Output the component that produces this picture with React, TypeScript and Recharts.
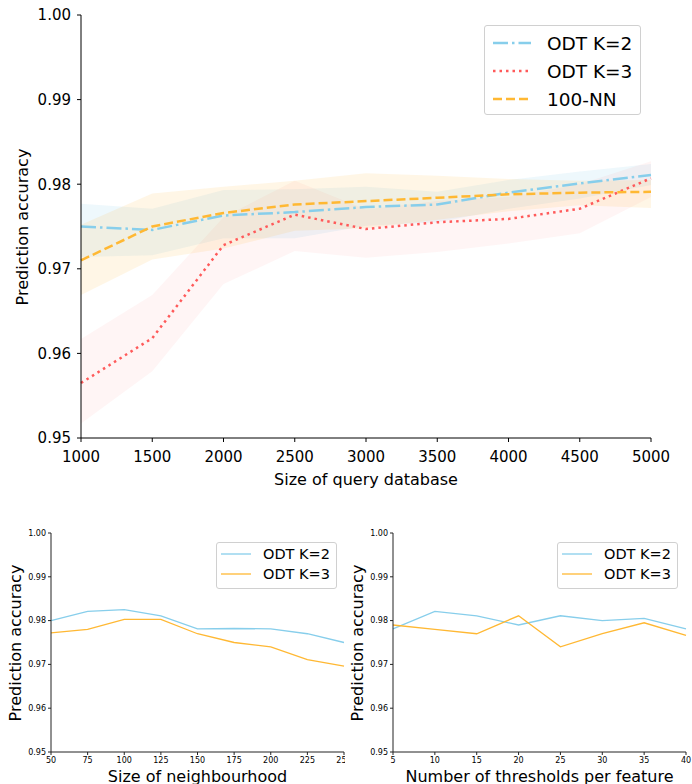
import React from 'react';
import { ComposedChart, LineChart, Line, Area, XAxis, YAxis, Legend, Label } from 'recharts';

// top panel: accuracy vs size of query database (mean + spread band)
const querySizes = [1000, 1500, 2000, 2500, 3000, 3500, 4000, 4500, 5000];
const odtK2Mean = [0.975, 0.9746, 0.9763, 0.9767, 0.9773, 0.9776, 0.979, 0.9801, 0.9811];
const odtK2Low = [0.9714, 0.9716, 0.9736, 0.9736, 0.9751, 0.9755, 0.9771, 0.9783, 0.9799];
const odtK2High = [0.9777, 0.9771, 0.9793, 0.9794, 0.9797, 0.9791, 0.9805, 0.9815, 0.9824];
const odtK3Mean = [0.9565, 0.9618, 0.9728, 0.9764, 0.9747, 0.9755, 0.9759, 0.9771, 0.9807];
const odtK3Low = [0.9517, 0.9579, 0.9682, 0.9721, 0.9713, 0.972, 0.973, 0.9742, 0.9785];
const odtK3High = [0.9617, 0.9669, 0.9761, 0.9804, 0.977, 0.978, 0.9785, 0.98, 0.9827];
const nnMean = [0.971, 0.975, 0.9766, 0.9776, 0.978, 0.9784, 0.9788, 0.979, 0.9791];
const nnLow = [0.9669, 0.9711, 0.9724, 0.9745, 0.9748, 0.9758, 0.9768, 0.9775, 0.9772];
const nnHigh = [0.9752, 0.9789, 0.9797, 0.9804, 0.9813, 0.981, 0.9806, 0.9804, 0.9805];

// bottom left: size of neighbourhood
const hoodSizes = [50, 75, 100, 125, 150, 175, 200, 225, 250];
const hoodK2 = [0.98, 0.9821, 0.9825, 0.9811, 0.9781, 0.9782, 0.9781, 0.977, 0.975];
const hoodK3 = [0.9772, 0.978, 0.9803, 0.9803, 0.977, 0.975, 0.974, 0.9711, 0.9696];

// bottom right: thresholds per feature
const thresholdCounts = [5, 10, 15, 20, 25, 30, 35, 40];
const thrK2 = [0.9781, 0.9821, 0.9811, 0.979, 0.9811, 0.98, 0.9805, 0.9781];
const thrK3 = [0.979, 0.978, 0.977, 0.9811, 0.974, 0.977, 0.9795, 0.9766];

const accuracyTicks = [0.95, 0.96, 0.97, 0.98, 0.99, 1.0];

const BLUE = '#87ceeb';
const RED = '#ff5a5a';
const ORANGE = '#ffb833';
const FONT = '"DejaVu Sans", sans-serif';

const queryRows = querySizes.map((n, i) => ({
  n,
  k2: odtK2Mean[i],
  k2Band: [odtK2Low[i], odtK2High[i]],
  k3: odtK3Mean[i],
  k3Band: [odtK3Low[i], odtK3High[i]],
  nn: nnMean[i],
  nnBand: [nnLow[i], nnHigh[i]],
}));

const hoodRows = hoodSizes.map((size, i) => ({ size, k2: hoodK2[i], k3: hoodK3[i] }));
const thrRows = thresholdCounts.map((count, i) => ({ count, k2: thrK2[i], k3: thrK3[i] }));

type LegendEntry = { label: string; color: string; dash?: string };

const legendBox = (
  entries: LegendEntry[],
  opts: { fontSize: number; row: number; padTop: number; padLeft: number; sample: number; gap: number; lw: number }
) => () => (
  <div
    style={{
      boxSizing: 'border-box',
      width: '100%',
      height: '100%',
      border: '1px solid #d0d0d0',
      borderRadius: 3,
      background: 'rgba(255,255,255,0.8)',
      paddingTop: opts.padTop,
      paddingLeft: opts.padLeft,
      fontFamily: FONT,
      fontSize: opts.fontSize,
      color: '#000',
    }}
  >
    {entries.map((e) => (
      <div key={e.label} style={{ display: 'flex', alignItems: 'center', height: opts.row }}>
        <svg width={opts.sample} height={8} style={{ marginRight: opts.gap }}>
          <line x1={0} y1={4} x2={opts.sample} y2={4} stroke={e.color} strokeWidth={opts.lw} strokeDasharray={e.dash} />
        </svg>
        <span>{e.label}</span>
      </div>
    ))}
  </div>
);

const yLabel = (x: number, y: number, size: number) => () => (
  <text x={x} y={y} transform={`rotate(-90 ${x} ${y})`} textAnchor="middle" dominantBaseline="central" fontSize={size} fill="#000">
    Prediction accuracy
  </text>
);

const xLabel = (text: string, x: number, y: number, size: number) => () => (
  <text x={x} y={y} textAnchor="middle" fontSize={size} fill="#000">
    {text}
  </text>
);

const fmt2 = (v: number) => v.toFixed(2);

const QueryChart = () => (
  <ComposedChart width={692} height={500} data={queryRows} margin={{ top: 15, right: 41, bottom: 0, left: 0 }}>
    <XAxis
      dataKey="n"
      type="number"
      domain={[1000, 5000]}
      ticks={querySizes}
      interval={0}
      height={62}
      tickSize={4}
      tickMargin={9}
      stroke="#000"
      tick={{ fontSize: 15, fill: '#000' }}
    >
      <Label content={xLabel('Size of query database', 366, 485, 16)} />
    </XAxis>
    <XAxis xAxisId="top" orientation="top" dataKey="n" type="number" domain={[1000, 5000]} height={0} tick={false} tickLine={false} stroke="#000" />
    <YAxis
      type="number"
      domain={[0.95, 1.0]}
      ticks={accuracyTicks}
      interval={0}
      width={81}
      tickSize={4}
      tickMargin={6}
      stroke="#000"
      tickFormatter={fmt2}
      tick={{ fontSize: 15, fill: '#000' }}
      allowDataOverflow
    >
      <Label content={yLabel(22, 227, 16)} />
    </YAxis>
    <YAxis yAxisId="right" orientation="right" width={0} domain={[0.95, 1.0]} tick={false} tickLine={false} stroke="#000" />
    <Area dataKey="k2Band" stroke="none" fill={BLUE} fillOpacity={0.14} dot={false} activeDot={false} isAnimationActive={false} />
    <Area dataKey="k3Band" stroke="none" fill={RED} fillOpacity={0.06} dot={false} activeDot={false} isAnimationActive={false} />
    <Area dataKey="nnBand" stroke="none" fill={ORANGE} fillOpacity={0.12} dot={false} activeDot={false} isAnimationActive={false} />
    <Line dataKey="k2" stroke={BLUE} strokeWidth={2.5} strokeDasharray="15 4 2.5 4" dot={false} isAnimationActive={false} />
    <Line dataKey="k3" stroke={RED} strokeWidth={2.5} strokeDasharray="2.5 4" dot={false} isAnimationActive={false} />
    <Line dataKey="nn" stroke={ORANGE} strokeWidth={2.5} strokeDasharray="9 4" dot={false} isAnimationActive={false} />
    <Legend
      layout="vertical"
      align="center"
      verticalAlign="middle"
      wrapperStyle={{ left: 484, top: 25, width: 157, height: 90 }}
      content={legendBox(
        [
          { label: 'ODT K=2', color: BLUE, dash: '15 4 2.5 4' },
          { label: 'ODT K=3', color: RED, dash: '2.5 4' },
          { label: '100-NN', color: ORANGE, dash: '9 4' },
        ],
        { fontSize: 18.5, row: 28, padTop: 3, padLeft: 8, sample: 38, gap: 16, lw: 2.5 }
      )}
    />
  </ComposedChart>
);

type SmallProps = {
  rows: Array<Record<string, number>>;
  xKey: string;
  xTicks: number[];
  width: number;
  axisWidth: number;
  rightMargin: number;
  title: string;
  yLabelX: number;
  legendLeft: number;
};

const SmallChart = ({ rows, xKey, xTicks, width, axisWidth, rightMargin, title, yLabelX, legendLeft }: SmallProps) => {
  const plotCenter = axisWidth + (width - axisWidth - rightMargin) / 2;
  const domain: [number, number] = [xTicks[0], xTicks[xTicks.length - 1]];
  return (
    <LineChart width={width} height={300} data={rows} margin={{ top: 13, right: rightMargin, bottom: 0, left: 0 }}>
      <XAxis
        dataKey={xKey}
        type="number"
        domain={domain}
        ticks={xTicks}
        interval={0}
        height={68}
        tickSize={3}
        tickMargin={2}
        stroke="#222"
        tick={{ fontSize: 8, fill: '#000' }}
      >
        <Label content={xLabel(title, plotCenter, 262, 16)} />
      </XAxis>
      <XAxis xAxisId="top" orientation="top" dataKey={xKey} type="number" domain={domain} height={0} tick={false} tickLine={false} stroke="#222" />
      <YAxis
        type="number"
        domain={[0.95, 1.0]}
        ticks={accuracyTicks}
        interval={0}
        width={axisWidth}
        tickSize={3}
        tickMargin={2}
        stroke="#222"
        tickFormatter={fmt2}
        tick={{ fontSize: 8, fill: '#000' }}
      >
        <Label content={yLabel(yLabelX, 123, 16)} />
      </YAxis>
      <YAxis yAxisId="right" orientation="right" width={0} domain={[0.95, 1.0]} tick={false} tickLine={false} stroke="#222" />
      <Line dataKey="k2" stroke={BLUE} strokeWidth={1.3} dot={false} isAnimationActive={false} />
      <Line dataKey="k3" stroke={ORANGE} strokeWidth={1.3} dot={false} isAnimationActive={false} />
      <Legend
        layout="vertical"
        align="center"
        verticalAlign="middle"
        wrapperStyle={{ left: legendLeft, top: 22, width: 121, height: 47 }}
        content={legendBox(
          [
            { label: 'ODT K=2', color: BLUE },
            { label: 'ODT K=3', color: ORANGE },
          ],
          { fontSize: 14.5, row: 20, padTop: 1, padLeft: 4, sample: 30, gap: 12, lw: 1.3 }
        )}
      />
    </LineChart>
  );
};

export default function App() {
  return (
    <div style={{ position: 'absolute', left: 0, top: 0, width: 692, height: 784, overflow: 'hidden', background: '#fff', fontFamily: FONT }}>
      <div style={{ position: 'absolute', left: 0, top: 0 }}>
        <QueryChart />
      </div>
      <div style={{ position: 'absolute', left: 0, top: 520, width: 345, height: 264, overflow: 'hidden' }}>
        <SmallChart
          rows={hoodRows}
          xKey="size"
          xTicks={hoodSizes}
          width={345}
          axisWidth={51}
          rightMargin={1}
          title="Size of neighbourhood"
          yLabelX={15}
          legendLeft={216}
        />
      </div>
      <div style={{ position: 'absolute', left: 345, top: 520, width: 347, height: 264, overflow: 'hidden' }}>
        <SmallChart
          rows={thrRows}
          xKey="count"
          xTicks={thresholdCounts}
          width={347}
          axisWidth={48}
          rightMargin={6}
          title="Number of thresholds per feature"
          yLabelX={12}
          legendLeft={212}
        />
      </div>
    </div>
  );
}
